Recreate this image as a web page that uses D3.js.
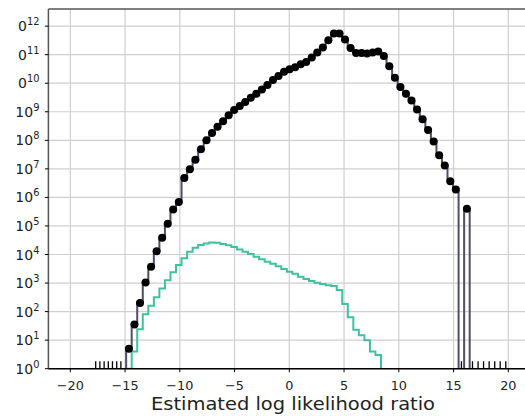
<!DOCTYPE html>
<html>
    <head>
        <meta charset="utf-8">
        <title>Estimated log likelihood ratio</title>
        <script src="https://d3js.org/d3.v7.min.js"></script>
        <style>
            body { margin: 0; background: #fff; }
            text { font-family: "DejaVu Sans", sans-serif; }
        </style>
    </head>
    <body>
        <script>
            // histogram bins (uniform width)
            var binStart = -14.9,
                binWidth = 0.506;

            // counts per bin, black series (0 = empty bin)
            var allCounts = [5, 35, 200, 1050, 3700, 13000, 39000, 1.2e5, 3.8e5, 6.9e5,
                4.8e6, 9.6e6, 2.1e7, 4.9e7, 1e8, 1.8e8, 3e8, 4.7e8, 7.6e8, 1.15e9,
                1.6e9, 2.2e9, 3.1e9, 4.3e9, 6e9, 8.7e9, 1.3e10, 1.8e10, 2.5e10, 3.1e10,
                3.6e10, 4.6e10, 5.5e10, 7.9e10, 1.2e11, 1.8e11, 3.2e11, 5.5e11, 5.5e11, 3.4e11,
                1.7e11, 1.15e11, 1.15e11, 1.1e11, 1.2e11, 1.3e11, 8.9e10, 3.9e10, 1.55e10, 7.4e9,
                4.3e9, 2.5e9, 1.2e9, 5.5e8, 2.3e8, 9.1e7, 3e7, 1.3e7, 3.7e6, 1.9e6,
                0, 4e5];

            // counts per bin, teal series
            var subCounts = [1, 4, 24, 80, 160, 320, 650, 1260, 2400, 4300,
                7400, 12600, 17400, 21400, 24500, 26300, 25700, 23400, 20900, 18200,
                15100, 12600, 10500, 8300, 6800, 5600, 4700, 3900, 3100, 2500,
                2100, 1660, 1380, 1170, 1020, 930, 830, 790, 575, 186,
                63, 23, 15, 10, 4, 3];

            // small markers sitting on the bottom axis
            var rugX = [-17.68, -17.30, -16.91, -16.53, -16.15, -15.76, -15.38,
                15.72, 16.73, 17.24, 17.74, 18.25, 18.76, 19.26, 19.77];

            var xTicks = [-20, -15, -10, -5, 0, 5, 10, 15, 20];
            var yExponents = [0, 1, 2, 3, 4, 5, 6, 7, 8, 9, 10, 11, 12];

            var width = 525, height = 416;
            var pLeft = 48.4, pRight = 530.2, pTop = 9, pBottom = 368.7;

            var x = d3.scaleLinear().domain([-22, 22]).range([pLeft, pRight]);
            var y = d3.scaleLog().domain([1, Math.pow(10, 12.6)]).range([pBottom, pTop]);

            var svg = d3.select("body")
                .append("svg")
                .attr("width", width)
                .attr("height", height);

            svg.append("clipPath")
                .attr("id", "plot")
                .append("rect")
                .attr("x", pLeft)
                .attr("y", pTop)
                .attr("width", pRight - pLeft)
                .attr("height", pBottom - pTop);

            // the source figure is cropped just left of the y tick labels
            svg.append("clipPath")
                .attr("id", "crop")
                .append("rect")
                .attr("x", 17)
                .attr("y", 0)
                .attr("width", width)
                .attr("height", height);

            // grid
            var grid = svg.append("g");
            grid.selectAll("line.vx")
                .data(xTicks)
                .enter()
                .append("line")
                .attr("x1", function(d){ return x(d); })
                .attr("x2", function(d){ return x(d); })
                .attr("y1", pTop)
                .attr("y2", pBottom)
                .attr("stroke", "#cfcfcf")
                .attr("stroke-width", 1.2);
            grid.selectAll("line.hy")
                .data(yExponents)
                .enter()
                .append("line")
                .attr("x1", pLeft)
                .attr("x2", pRight)
                .attr("y1", function(d){ return y(Math.pow(10, d)); })
                .attr("y2", function(d){ return y(Math.pow(10, d)); })
                .attr("stroke", "#cfcfcf")
                .attr("stroke-width", 1.2);

            // step outline like matplotlib histtype='step'
            var yOf = function(v){ return v > 0 ? y(v) : pBottom + 10; };
            var stepPath = function(counts){
                var p = "M" + x(binStart) + "," + (pBottom + 10);
                counts.forEach(function(v, i){
                    var a = x(binStart + i * binWidth),
                        b = x(binStart + (i + 1) * binWidth);
                    p += "L" + a + "," + yOf(v) + "L" + b + "," + yOf(v);
                });
                p += "L" + x(binStart + counts.length * binWidth) + "," + (pBottom + 10);
                return p;
            };

            var plot = svg.append("g").attr("clip-path", "url(#plot)");

            plot.append("path")
                .attr("d", stepPath(subCounts))
                .attr("fill", "none")
                .attr("stroke", "#3fc1a0")
                .attr("stroke-width", 2);

            plot.append("path")
                .attr("d", stepPath(allCounts))
                .attr("fill", "none")
                .attr("stroke", "#4e4e68")
                .attr("stroke-width", 2);

            plot.selectAll("circle")
                .data(allCounts.map(function(v, i){ return {v: v, i: i}; })
                    .filter(function(d){ return d.v > 0; }))
                .enter()
                .append("circle")
                .attr("cx", function(d){ return x(binStart + (d.i + 0.5) * binWidth); })
                .attr("cy", function(d){ return y(d.v); })
                .attr("r", 4)
                .attr("fill", "#000");

            svg.selectAll("line.rug")
                .data(rugX)
                .enter()
                .append("line")
                .attr("x1", function(d){ return x(d); })
                .attr("x2", function(d){ return x(d); })
                .attr("y1", pBottom - 7.5)
                .attr("y2", pBottom)
                .attr("stroke", "#000")
                .attr("stroke-width", 1.3);

            // spines
            svg.append("line")
                .attr("x1", pLeft).attr("x2", pRight)
                .attr("y1", pTop).attr("y2", pTop)
                .attr("stroke", "#555").attr("stroke-width", 1.5);
            svg.append("line")
                .attr("x1", pLeft).attr("x2", pLeft)
                .attr("y1", pTop).attr("y2", pBottom)
                .attr("stroke", "#555").attr("stroke-width", 1.5);
            svg.append("line")
                .attr("x1", pLeft).attr("x2", pRight)
                .attr("y1", pBottom).attr("y2", pBottom)
                .attr("stroke", "#000").attr("stroke-width", 1.5);

            // x axis ticks + labels
            var xAxis = svg.append("g");
            xAxis.selectAll("line")
                .data(xTicks)
                .enter()
                .append("line")
                .attr("x1", function(d){ return x(d); })
                .attr("x2", function(d){ return x(d); })
                .attr("y1", pBottom)
                .attr("y2", pBottom + 3.5)
                .attr("stroke", "#000");
            xAxis.selectAll("text")
                .data(xTicks)
                .enter()
                .append("text")
                .attr("x", function(d){ return x(d); })
                .attr("y", pBottom + 21)
                .attr("text-anchor", "middle")
                .attr("font-size", 12.8)
                .attr("fill", "#222")
                .text(function(d){ return d < 0 ? "\u2212" + (-d) : d; });

            // y axis ticks + labels
            var yAxis = svg.append("g").attr("clip-path", "url(#crop)");
            yAxis.selectAll("line")
                .data(yExponents)
                .enter()
                .append("line")
                .attr("x1", pLeft - 3.5)
                .attr("x2", pLeft)
                .attr("y1", function(d){ return y(Math.pow(10, d)); })
                .attr("y2", function(d){ return y(Math.pow(10, d)); })
                .attr("stroke", "#000");
            var yLabel = yAxis.selectAll("text")
                .data(yExponents)
                .enter()
                .append("text")
                .attr("x", pLeft - 9)
                .attr("y", function(d){ return y(Math.pow(10, d)) + 5; })
                .attr("text-anchor", "end")
                .attr("fill", "#222");
            yLabel.append("tspan")
                .attr("font-size", 14)
                .text("10");
            yLabel.append("tspan")
                .attr("font-size", 9.8)
                .attr("dy", -6)
                .text(function(d){ return d; });

            svg.append("text")
                .attr("x", 293)
                .attr("y", 410)
                .attr("text-anchor", "middle")
                .attr("font-size", 18)
                .attr("textLength", 284)
                .attr("lengthAdjust", "spacingAndGlyphs")
                .attr("fill", "#222")
                .text("Estimated log likelihood ratio");
        </script>
    </body>
</html>
